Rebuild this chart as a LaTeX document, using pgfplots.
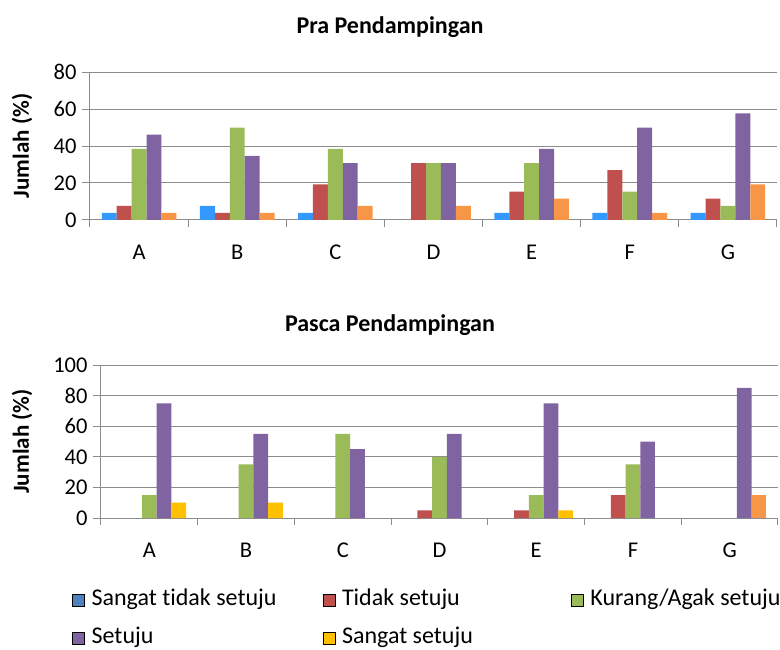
\documentclass[border=0pt]{standalone}
\usepackage{pgfplots}
\pgfplotsset{compat=1.18}
\usepackage{fontspec}
\setmainfont{Carlito}[Ligatures=NoCommon]
\definecolor{cBlueTop}{HTML}{3399FF}
\definecolor{cBlue}{HTML}{4F81BD}
\definecolor{cRed}{HTML}{C0504D}
\definecolor{cGreen}{HTML}{9BBB59}
\definecolor{cPurple}{HTML}{8064A2}
\definecolor{cOrange}{HTML}{F79646}
\definecolor{cYellow}{HTML}{FFC000}
\definecolor{cGrid}{HTML}{8C8C8C}
\pgfplotsset{
  common/.style={
    scale only axis,
    anchor=south west,
    ybar,
    bar width=0.152,
    xmin=-0.5, xmax=6.5,
    ymin=0,
    axis x line*=bottom,
    axis y line*=left,
    axis line style={draw=cGrid, line width=1pt},
    ymajorgrids,
    grid style={draw=cGrid, line width=1pt},
    xtick={0,...,6},
    xticklabels={A,B,C,D,E,F,G},
    major x tick style={draw=none},
    minor xtick={-0.5,0.5,...,6.5},
    minor x tick style={draw=cGrid, line width=1pt},
    minor tick length=7pt,
    ytick style={draw=cGrid, line width=1pt},
    major tick length=8pt,
    tick align=outside,
    ticklabel style={font=\fontsize{22.5}{26}\selectfont},
    /pgf/number format/assume math mode=true,
    xticklabel style={yshift=-12pt, text height=16pt, text depth=0pt},
    yticklabel style={xshift=-2pt},
    ylabel={\textbf{Jumlah (\%)}},
    title style={font=\fontsize{24}{28}\selectfont\bfseries, anchor=center},
  }
}
\begin{document}
\begin{tikzpicture}
\useasboundingbox (0pt,0pt) rectangle (780pt,649pt);
% Top panel
\begin{axis}[common,
  at={(90pt,429pt)}, width=687pt, height=148pt,
  ymax=80, ytick={0,20,...,80},
  title={Pra Pendampingan},
  title style={at={(0.4367,1)}, yshift=39pt},
  every axis y label/.style={at={(rel axis cs:-0.099,0.5)}, rotate=90, anchor=center, font=\fontsize{23}{26}\selectfont},
]
\addplot[fill=cBlueTop, draw=none, bar shift=-0.304] coordinates {(0,3.85) (1,7.69) (2,3.85) (4,3.85) (5,3.85) (6,3.85)};
\addplot[fill=cRed, draw=none, bar shift=-0.152] coordinates {(0,7.69) (1,3.85) (2,19.23) (3,30.77) (4,15.38) (5,26.92) (6,11.54)};
\addplot[fill=cGreen, draw=none, bar shift=0] coordinates {(0,38.46) (1,50) (2,38.46) (3,30.77) (4,30.77) (5,15.38) (6,7.69)};
\addplot[fill=cPurple, draw=none, bar shift=0.152] coordinates {(0,46.15) (1,34.62) (2,30.77) (3,30.77) (4,38.46) (5,50) (6,57.69)};
\addplot[fill=cOrange, draw=none, bar shift=0.304] coordinates {(0,3.85) (1,3.85) (2,7.69) (3,7.69) (4,11.54) (5,3.85) (6,19.23)};
\end{axis}
% Bottom panel
\begin{axis}[common,
  at={(101pt,131pt)}, width=677pt, height=153pt,
  ymax=100, ytick={0,20,...,100},
  title={Pasca Pendampingan},
  title style={at={(0.4269,1)}, yshift=34pt},
  every axis y label/.style={at={(rel axis cs:-0.1167,0.5)}, rotate=90, anchor=center, font=\fontsize{23}{26}\selectfont},
  legend columns=3,
  legend cell align=left,
  legend style={draw=none, fill=none, inner sep=0pt,
    at={(-0.0428,-0.4575)}, anchor=north west,
    font=\fontsize{24}{28}\selectfont,
    nodes={inner sep=0pt, text height=17pt, text depth=6pt},
    row sep=15pt,
    /tikz/every odd column/.append style={column sep=7pt}},
  legend image code/.code={\fill[#1] (0pt,-6pt) rectangle (12pt,6pt);},
]
\addplot[fill=cRed, draw=none, bar shift=-0.152, forget plot] coordinates {(3,5) (4,5) (5,15)};
\addplot[fill=cGreen, draw=none, bar shift=0, forget plot] coordinates {(0,15) (1,35) (2,55) (3,40) (4,15) (5,35)};
\addplot[fill=cPurple, draw=none, bar shift=0.152, forget plot] coordinates {(0,75) (1,55) (2,45) (3,55) (4,75) (5,50) (6,85)};
\addplot[fill=cYellow, draw=none, bar shift=0.304, forget plot] coordinates {(0,10) (1,10) (4,5)};
\addplot[fill=cOrange, draw=none, bar shift=0.304, forget plot] coordinates {(6,15)};
\addlegendimage{fill=cBlue}
\addlegendentry{\makebox[231pt][l]{Sangat tidak setuju}}
\addlegendimage{fill=cRed}
\addlegendentry{\makebox[229pt][l]{Tidak setuju}}
\addlegendimage{fill=cGreen}
\addlegendentry{Kurang/Agak setuju}
\addlegendimage{fill=cPurple}
\addlegendentry{\makebox[231pt][l]{Setuju}}
\addlegendimage{fill=cYellow}
\addlegendentry{\makebox[229pt][l]{Sangat setuju}}
\end{axis}
\end{tikzpicture}
\end{document}
